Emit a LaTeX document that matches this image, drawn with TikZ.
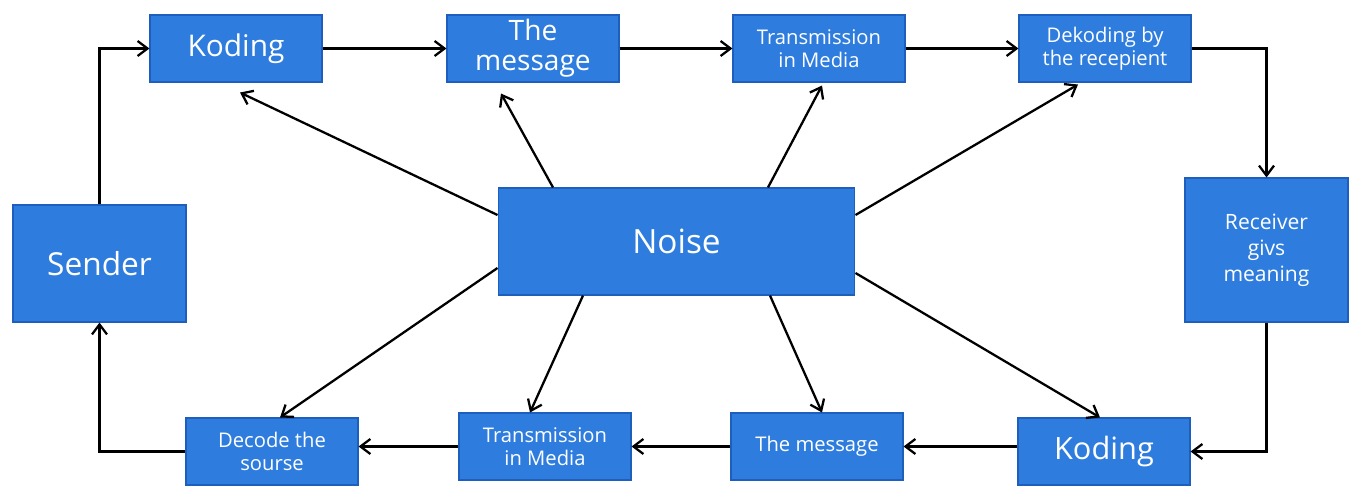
\documentclass[tikz,border=0pt]{standalone}
\usepackage{fontspec}
\setmainfont{Open Sans}
\definecolor{BoxBlue}{RGB}{46, 125, 222}
\definecolor{EdgeBlue}{RGB}{30, 95, 190}
\usetikzlibrary{arrows.meta, positioning, calc}

\begin{document}
\begin{tikzpicture}[
            x=0.02cm, y=0.02cm,
            box/.style={rectangle, draw=EdgeBlue, fill=BoxBlue, line width=0.6pt, text=white,
                        minimum width=3.44cm, minimum height=1.34cm, align=center, inner sep=2pt},
            big/.style={font=\fontsize{17}{20}\selectfont},
            small/.style={font=\fontsize{11.5}{13}\selectfont},
            arrow/.style={-{Straight Barb[length=2mm, width=3mm]}, line width=1.3pt, black}
        ]
            \useasboundingbox (0,0) rectangle (1350,485);

            % Top row
            \node[box, big] (kodA) at (236,436.5) {Koding};
            \node[box, font=\fontsize{16}{17}\selectfont, right=2.48cm of kodA] (msgA) {The\\message};
            \node[box, small, right=2.26cm of msgA] (medA) {Transmission\\in Media};
            \node[box, small, right=2.26cm of medA] (dekA) {Dekoding by\\the recepient};

            % Sides and centre
            \node[box, font=\fontsize{18}{20}\selectfont, minimum width=3.46cm, minimum height=2.34cm] (sender) at (99.5,221.5) {Sender};
            \node[box, font=\fontsize{19}{22}\selectfont, minimum width=7.14cm, minimum height=2.14cm] (noise) at (676.5,243.5) {Noise};
            \node[box, font=\fontsize{12}{14.7}\selectfont, minimum width=3.26cm, minimum height=2.88cm] (receiver) at (1266.5,235) {Receiver\\givs\\meaning};

            % Bottom row
            \node[box, font=\fontsize{17.5}{20}\selectfont] (kodB) at (1104,33.5) {Koding};
            \node[box, small] (msgB) at (817,38.5) {The message};
            \node[box, small] (medB) at (545,38.5) {Transmission\\in Media};
            \node[box, small] (decB) at (272,33.5) {Decode the\\sourse};

            % Arrows
            \draw[arrow] (sender.north) |- (kodA.west);
            \draw[arrow] (kodA) -- (msgA);
            \draw[arrow] (msgA) -- (medA);
            \draw[arrow] (medA) -- (dekA);
            \draw[arrow] (dekA.east) -| (receiver.north);
            \draw[arrow] (receiver.south) |- (kodB.east);
            \draw[arrow] (kodB.west |- msgB.east) -- (msgB.east);
            \draw[arrow] (msgB) -- (medB);
            \draw[arrow] (medB.west) -- (medB.west -| decB.east);
            \draw[arrow] (decB.west) -| (sender.south);

            % Noise
            \draw[arrow] ([yshift=0.53cm]noise.west) -- ([shift={(0.08cm,-0.2cm)}]kodA.south);
            \draw[arrow] ([xshift=-2.47cm]noise.north) -- ([shift={(-0.64cm,-0.22cm)}]msgA.south);
            \draw[arrow] ([xshift=1.83cm]noise.north) -- ([shift={(0.06cm,-0.06cm)}]medA.south);
            \draw[arrow] ([yshift=0.53cm]noise.east) -- ([shift={(-0.54cm,-0.04cm)}]dekA.south);
            \draw[arrow] ([yshift=-0.53cm]noise.west) -- ([xshift=0.16cm]decB.north);
            \draw[arrow] ([xshift=-1.87cm]noise.south) -- ([xshift=-0.3cm]medB.north);
            \draw[arrow] ([xshift=1.87cm]noise.south) -- ([xshift=0.1cm]msgB.north);
            \draw[arrow] ([yshift=-0.63cm]noise.east) -- ([xshift=-0.08cm]kodB.north);
        \end{tikzpicture}
\end{document}
